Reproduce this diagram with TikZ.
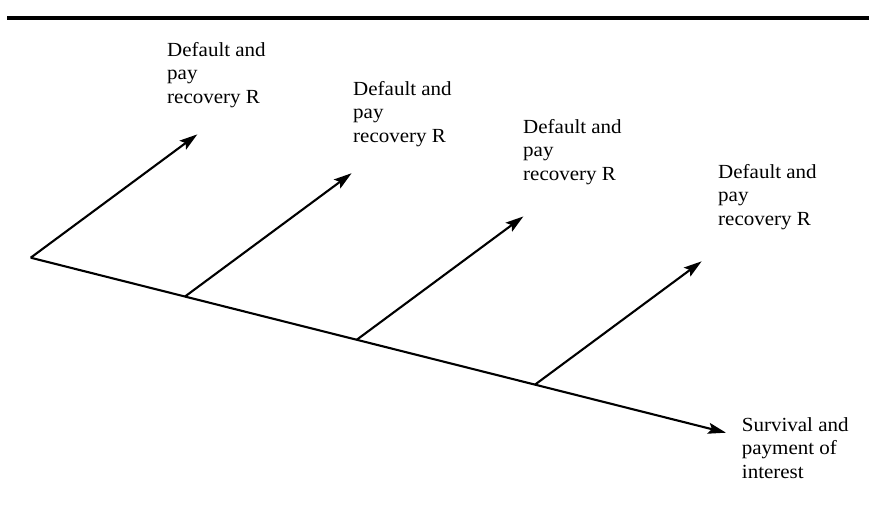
\documentclass[tikz,border=0pt]{standalone}
\usepackage{fontspec}
\setmainfont{Liberation Serif}[FakeStretch=1.05]
\usetikzlibrary{arrows.meta,calc}
\begin{document}
\begin{tikzpicture}[
    x=1pt, y=-1pt,
    outcome/.style={
      anchor=base west,
      align=left,
      inner sep=0pt,
      font=\fontsize{20}{23.5}\selectfont
    },
    branch/.style={
      line width=2.1pt,
      -{Stealth[length=18pt,width=11pt,inset=3.5pt]}
    }
  ]
    \useasboundingbox (0,0) rectangle (869,504);
    \draw[line width=3.5pt] (7,18) -- (869,18);

    \coordinate (root) at (30.7,257.7);
    \coordinate (survive) at (726,432.7);
    \coordinate (s1) at ($(root)!0.2219!(survive)$);
    \coordinate (s2) at ($(root)!0.4689!(survive)$);
    \coordinate (s3) at ($(root)!0.7253!(survive)$);
    \coordinate (d0) at ($(root)+(166.6,-123.3)$);
    \coordinate (d1) at ($(s1)+(166.6,-123.3)$);
    \coordinate (d2) at ($(s2)+(166.6,-123.3)$);
    \coordinate (d3) at ($(s3)+(166.6,-123.3)$);

    % anchor is the baseline of the last line
    \node[outcome] (def0) at (167,103) {Default and\\pay\\recovery R};
    \node[outcome] (def1) at (353,142) {Default and\\pay\\recovery R};
    \node[outcome] (def2) at (523,180) {Default and\\pay\\recovery R};
    \node[outcome] (def3) at (718,225) {Default and\\pay\\recovery R};
    \node[outcome] (surv) at (741.7,478.3) {Survival and\\payment of\\interest};

    \draw[branch] (root) -- (survive);
    \draw[branch] (root) -- (d0);
    \draw[branch] (s1) -- (d1);
    \draw[branch] (s2) -- (d2);
    \draw[branch] (s3) -- (d3);
  \end{tikzpicture}
\end{document}
